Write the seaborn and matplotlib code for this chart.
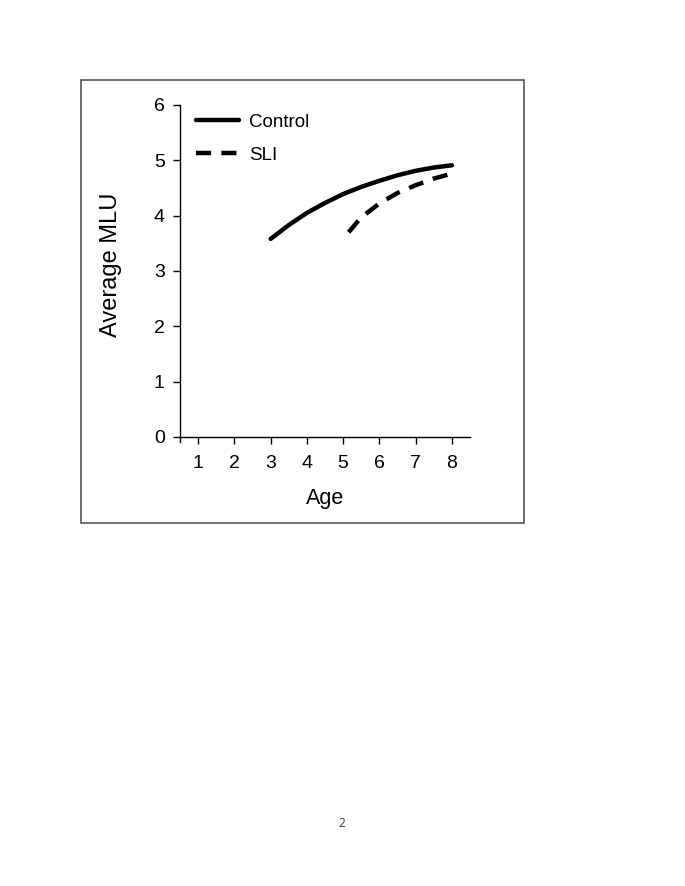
import seaborn as sns
import pandas as pd
import numpy as np
import matplotlib.pyplot as plt
from matplotlib.patches import Rectangle

# values
control_age = [3.0, 3.5, 4.0, 4.5, 5.0, 5.5, 6.0, 6.5, 7.0, 7.5, 8.0]
control_mlu = [3.58, 3.83, 4.05, 4.23, 4.39, 4.52, 4.63, 4.73, 4.81, 4.87, 4.91]
sli_age = [5.15, 5.5, 6.0, 6.5, 7.0, 7.5, 8.0]
sli_mlu = [3.70, 3.97, 4.22, 4.41, 4.55, 4.67, 4.76]
x_ticks = [1, 2, 3, 4, 5, 6, 7, 8]
y_ticks = [0, 1, 2, 3, 4, 5, 6]

df = pd.concat([
    pd.DataFrame({'Age': control_age, 'MLU': control_mlu, 'group': 'Control'}),
    pd.DataFrame({'Age': sli_age, 'MLU': sli_mlu, 'group': 'SLI'}),
])

sns.set_style("ticks")
plt.rcParams['font.family'] = ['Liberation Sans', 'DejaVu Sans']
plt.rcParams['text.color'] = 'black'
plt.rcParams['axes.labelcolor'] = 'black'

fig = plt.figure(figsize=(6.85, 8.86), dpi=100)
ax = fig.add_axes([0.2628, 0.5006, 0.4234, 0.3809])

sns.lineplot(data=df, x='Age', y='MLU', hue='group', style='group',
             palette={'Control': 'black', 'SLI': 'black'},
             dashes={'Control': '', 'SLI': (3.4, 2.3)},
             linewidth=3.2, ax=ax, sort=False)
for ln in ax.lines:
    ln.set_solid_capstyle('round')

ax.set_xlim(0.5, 8.5)
ax.set_ylim(-0.1, 6)
ax.spines['bottom'].set_position(('data', 0))
ax.spines['top'].set_visible(False)
ax.spines['right'].set_visible(False)
for s in ['left', 'bottom']:
    ax.spines[s].set_linewidth(1.0)
    ax.spines[s].set_color('black')
ax.set_xticks(x_ticks)
ax.set_yticks(y_ticks)
ax.tick_params(axis='both', direction='out', length=5, width=1, colors='black', labelsize=14)
ax.tick_params(axis='x', pad=8)
ax.tick_params(axis='y', pad=6)

ax.set_xlabel('Age', fontsize=15.5)
ax.set_ylabel('Average MLU', fontsize=17)
ax.xaxis.set_label_coords(0.5, -0.135)
ax.yaxis.set_label_coords(-0.2, 0.525)

handles, labels = ax.get_legend_handles_labels()
ax.legend(handles, labels, loc='upper left', bbox_to_anchor=(0.055, 0.975),
          frameon=False, fontsize=13.5, handlelength=2.3, handletextpad=0.55,
          labelspacing=0.85, borderpad=0, borderaxespad=0)

# page frame and page number
fig.patches.append(Rectangle((0.1182, 0.4097), 0.6468, 0.5, transform=fig.transFigure,
                             fill=False, edgecolor='#555555', linewidth=1.2))
fig.text(0.499, 0.071, '2', fontsize=8.5, color='#333333', ha='center', va='center',
         family=['Open Sans', 'DejaVu Sans'])

fig.savefig('out.png', dpi=100)
